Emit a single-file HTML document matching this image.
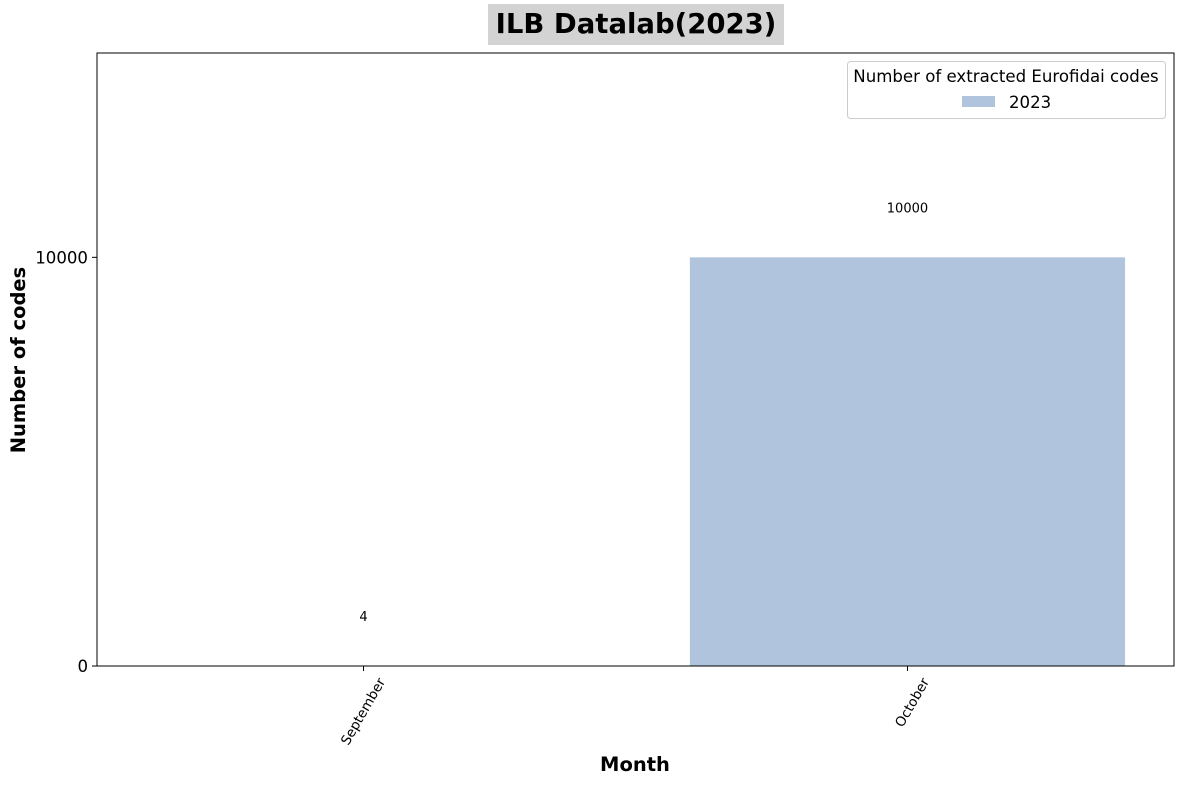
<!DOCTYPE html>
<html><head><meta charset="utf-8"><style>
body{margin:0;background:#fff;}
svg text{font-family:"DejaVu Sans","Liberation Sans",sans-serif;}
</style></head><body>
<svg id="chart" width="1184" height="784" xmlns="http://www.w3.org/2000/svg">
<rect x="488" y="4" width="296" height="41" fill="#d3d3d3"/>
<text x="636" y="33" text-anchor="middle" font-size="27.5" font-weight="bold">ILB Datalab(2023)</text>
<g id="bars"></g>
<rect x="97" y="53" width="1077" height="613" fill="none" stroke="#000" stroke-width="1"/>
<g id="axes"></g>
<text x="635" y="771" text-anchor="middle" font-size="19.5" font-weight="bold">Month</text>
<text transform="translate(25,360) rotate(-90)" text-anchor="middle" font-size="19.5" font-weight="bold">Number of codes</text>
<g>
<rect x="847.5" y="61.5" width="318" height="57" rx="3" fill="#fff" stroke="#ccc"/>
<text x="1006" y="82" text-anchor="middle" font-size="16.6">Number of extracted Eurofidai codes</text>
<rect x="962" y="96" width="33" height="11" fill="#b0c4de"/>
<text x="1009" y="108" font-size="16.6">2023</text>
</g>
</svg>
<script>
const categories=["September","October"];
const values=[4,10000];
const yTicks=[0,10000];
const NS="http://www.w3.org/2000/svg";
const x0=97,x1=1174,y0=666,y1=53;
const xs=i=>x0+(i+0.49)/1.98*(x1-x0);
const ys=v=>y0-v/15000*(y0-y1);
const step=(x1-x0)/1.98;
const bars=document.getElementById('bars'),axes=document.getElementById('axes');
function mk(tag,attrs,parent){const e=document.createElementNS(NS,tag);for(const k in attrs)e.setAttribute(k,attrs[k]);parent.appendChild(e);return e;}
categories.forEach((c,i)=>{
  const w=step*0.8,cx=xs(i);
  const r=mk('rect',{x:cx-w/2,y:ys(values[i]),width:w,height:y0-ys(values[i]),fill:'#b0c4de'},bars);
  
  
  const t=mk('text',{x:cx,y:ys(values[i]+1200)+4,'text-anchor':'middle','font-size':13},bars);
  t.textContent=values[i];
  
  
  const tk=mk('line',{x1:cx,x2:cx,y1:y0,y2:y0+5,stroke:'#000'},axes);
  
  
  const tl=mk('text',{'text-anchor':'end','font-size':13.5,dy:'0.35em',x:0,y:0},axes);
  tl.setAttribute('transform',`translate(${cx+18},${y0+13}) rotate(-60)`);
  tl.textContent=c;
  
  
});
yTicks.forEach(v=>{
  const y=ys(v);
  const tk=mk('line',{x1:x0-5,x2:x0,y1:y,y2:y,stroke:'#000'},axes);
  
  
  const tl=mk('text',{x:x0-9,y:y+6,'text-anchor':'end','font-size':16.6},axes);
  tl.textContent=v;
  
  
});
</script>
</body></html>
